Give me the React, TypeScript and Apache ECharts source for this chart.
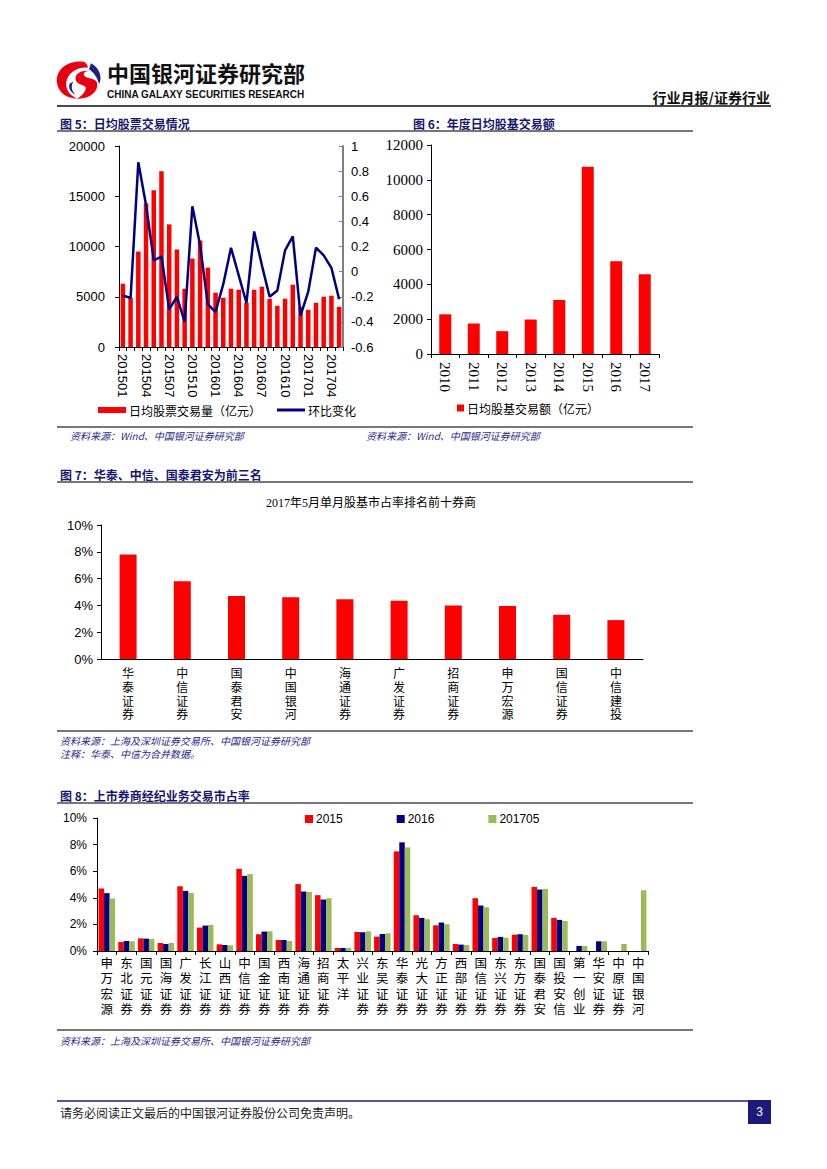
import React, { useEffect, useRef } from "react";
import * as echarts from "echarts";

// ---------- Data ----------
const months = [
  "201501","201502","201503","201504","201505","201506","201507","201508","201509","201510","201511","201512",
  "201601","201602","201603","201604","201605","201606","201607","201608","201609","201610","201611","201612",
  "201701","201702","201703","201704","201705",
];
const dailyStockVolume = [
  6300, 4900, 9500, 14300, 15600, 17500, 12200, 9700, 5800, 8800, 10600, 7900,
  5400, 4900, 5800, 5700, 4400, 5700, 6000, 4800, 4100, 4800, 6200, 4000,
  3700, 4400, 5000, 5100, 4000,
];
const momChange = [
  -0.19, -0.21, 0.87, 0.53, 0.09, 0.12, -0.30, -0.20, -0.40, 0.52, 0.21, -0.26,
  -0.32, -0.10, 0.19, -0.03, -0.25, 0.32, 0.05, -0.20, -0.15, 0.17, 0.28, -0.35,
  -0.16, 0.19, 0.13, 0.03, -0.22,
];

const years = ["2010", "2011", "2012", "2013", "2014", "2015", "2016", "2017"];
const yearlyTurnover = [2280, 1750, 1310, 1980, 3100, 10750, 5330, 4580];

const top10Brokers = ["华泰证券", "中信证券", "国泰君安", "中国银河", "海通证券", "广发证券", "招商证券", "申万宏源", "国信证券", "中信建投"];
const top10Share = [7.8, 5.8, 4.7, 4.6, 4.45, 4.35, 4.0, 3.95, 3.3, 2.9];

const listedBrokers = [
  "申万宏源", "东北证券", "国元证券", "国海证券", "广发证券", "长江证券", "山西证券", "中信证券",
  "国金证券", "西南证券", "海通证券", "招商证券", "太平洋", "兴业证券", "东吴证券", "华泰证券",
  "光大证券", "方正证券", "西部证券", "国信证券", "东兴证券", "东方证券", "国泰君安", "国投安信",
  "第一创业", "华安证券", "中原证券", "中国银河",
];
const share2015 = [4.7, 0.68, 0.95, 0.6, 4.87, 1.76, 0.5, 6.18, 1.26, 0.83, 5.03, 4.2, 0.23, 1.43, 1.08, 7.49, 2.69, 1.93, 0.53, 3.97, 0.98, 1.23, 4.82, 2.49, null, null, null, null];
const share2016 = [4.35, 0.75, 0.93, 0.53, 4.52, 1.91, 0.45, 5.65, 1.46, 0.83, 4.47, 3.87, 0.23, 1.41, 1.28, 8.17, 2.49, 2.14, 0.48, 3.42, 1.06, 1.26, 4.62, 2.34, 0.38, 0.73, null, null];
const share201705 = [3.95, 0.73, 0.9, 0.6, 4.37, 1.96, 0.43, 5.78, 1.48, 0.75, 4.45, 3.97, 0.23, 1.48, 1.33, 7.79, 2.39, 2.01, 0.45, 3.29, 1.0, 1.21, 4.67, 2.26, 0.38, 0.73, 0.53, 4.57];

const leftTicks1 = { min: 0, max: 20000, interval: 5000 };
const rightTicks1 = { min: -0.6, max: 1, interval: 0.2 };

// ---------- Styles ----------
const SANS = "'Liberation Sans', Arial, 'Noto Sans CJK SC', sans-serif";
const CJK = "'Noto Sans CJK SC', sans-serif";
const SERIF = "'Liberation Serif', 'Times New Roman', 'Noto Sans CJK SC', serif";
const RED = "#FF0000";
const NAVY = "#000080";
const GREEN = "#9BBB59";
const TITLE_NAVY = "#16166e";
const RULE = "#4a4a4a";

const plain = (v: number) => String(v);

let logoRegistered = false;
function registerLogo() {
  if (logoRegistered) return;
  logoRegistered = true;
  echarts.graphic.registerShape(
    "logoRed",
    echarts.graphic.extendPath(
      "M62 4 C28 0 2 22 4 52 C6 76 24 92 48 92 C30 84 20 66 26 46 C32 28 50 16 72 18 C70 10 67 6 62 4 Z M74 26 C54 24 40 36 46 50 C52 62 72 58 66 72 C62 82 54 88 48 92 C74 94 94 76 92 56 C90 42 70 46 64 38 C60 32 64 27 74 26 Z",
      {}
    )
  );
  echarts.graphic.registerShape(
    "logoNavy",
    echarts.graphic.extendPath(
      "M78 8 C96 18 104 40 96 58 C92 40 84 30 74 22 C76 17 77 12 78 8 Z M40 52 C34 62 36 74 44 82 C34 78 28 66 32 56 Z",
      {}
    )
  );
}

function hline(x1: number, x2: number, y: number, color: string, w: number) {
  return { type: "line", shape: { x1, y1: y, x2, y2: y }, style: { stroke: color, lineWidth: w }, silent: true };
}
function txt(x: number, y: number, text: string, font: string, fill: string, align = "left", extra: any = {}) {
  return {
    type: "text",
    x,
    y,
    style: { text, font, fill, align, verticalAlign: "middle", ...extra },
    silent: true,
  };
}

// Vertical category labels: one axis per character row so that each glyph is its own text
function charAxis(grid: number, data: string[], row: number, pitch: number, size: number, margin: number, ticks: boolean) {
  return {
    type: "category",
    gridIndex: grid,
    position: "bottom",
    offset: row * pitch,
    data,
    axisLine: { show: row === 0, lineStyle: { color: "#000", width: 1 } },
    axisTick: { show: row === 0 && ticks, interval: 0, length: 4, lineStyle: { color: "#000" } },
    axisLabel: {
      interval: 0,
      margin,
      fontSize: size,
      color: "#000",
      fontFamily: SANS,
      formatter: (v: string) => v.charAt(row),
    },
  };
}

export default function App() {
  const ref = useRef<HTMLDivElement>(null);

  useEffect(() => {
    if (!ref.current) return;
    registerLogo();
    const chart = echarts.init(ref.current, undefined, { renderer: "svg" });

    const srcFont = `italic 10px ${CJK}`;
    const srcColor = "#2a2a8a";

    const option: any = {
      animation: false,
      backgroundColor: "#ffffff",
      grid: [
        { left: 119, top: 146, width: 224, height: 201 },
        { left: 431, top: 145, width: 228, height: 209 },
        { left: 101, top: 525, width: 542, height: 134 },
        { left: 97, top: 818, width: 551, height: 133 },
      ],
      xAxis: [
        {
          type: "category",
          gridIndex: 0,
          data: months,
          axisLine: { lineStyle: { color: "#000", width: 1 } },
          axisTick: { show: true, interval: 0, length: 4, lineStyle: { color: "#000" } },
          axisLabel: { interval: 2, rotate: -90, margin: 7, fontSize: 13, color: "#000", fontFamily: SANS },
        },
        {
          type: "category",
          gridIndex: 1,
          data: years,
          axisLine: { lineStyle: { color: "#000", width: 1 } },
          axisTick: { show: true, interval: 0, length: 4, lineStyle: { color: "#000" } },
          axisLabel: { interval: 0, rotate: -90, margin: 8, fontSize: 15, color: "#000", fontFamily: SERIF },
        },
        // chart 7 labels (axis 2 carries the series)
        charAxis(2, top10Brokers, 0, 13.8, 12, 9, false),
        charAxis(2, top10Brokers, 1, 13.8, 12, 9, false),
        charAxis(2, top10Brokers, 2, 13.8, 12, 9, false),
        charAxis(2, top10Brokers, 3, 13.8, 12, 9, false),
        // chart 8 labels (axis 6 carries the series)
        charAxis(3, listedBrokers, 0, 15.2, 12.5, 7, true),
        charAxis(3, listedBrokers, 1, 15.2, 12.5, 7, true),
        charAxis(3, listedBrokers, 2, 15.2, 12.5, 7, true),
        charAxis(3, listedBrokers, 3, 15.2, 12.5, 7, true),
      ],
      yAxis: [
        {
          type: "value",
          gridIndex: 0,
          ...leftTicks1,
          splitLine: { show: false },
          axisLine: { show: true, lineStyle: { color: "#000", width: 1 } },
          axisTick: { show: true, length: 4, lineStyle: { color: "#000" } },
          axisLabel: { fontSize: 13, color: "#000", fontFamily: SANS, margin: 14, formatter: plain },
        },
        {
          type: "value",
          gridIndex: 0,
          position: "right",
          ...rightTicks1,
          splitLine: { show: false },
          axisLine: { show: true, lineStyle: { color: "#7f7f7f", width: 2 } },
          axisTick: { show: true, inside: true, length: 4, lineStyle: { color: "#7f7f7f" } },
          axisLabel: {
            fontSize: 13,
            color: "#000",
            fontFamily: SANS,
            margin: 8,
            formatter: (v: number) => String(Math.round(v * 10) / 10),
          },
        },
        {
          type: "value",
          gridIndex: 1,
          min: 0,
          max: 12000,
          interval: 2000,
          splitLine: { show: false },
          axisLine: { show: true, lineStyle: { color: "#000", width: 1 } },
          axisTick: { show: true, length: 4, lineStyle: { color: "#000" } },
          axisLabel: { fontSize: 15, color: "#000", fontFamily: SERIF, margin: 8, formatter: plain },
        },
        {
          type: "value",
          gridIndex: 2,
          min: 0,
          max: 10,
          interval: 2,
          splitLine: { show: false },
          axisLine: { show: true, lineStyle: { color: "#000", width: 1 } },
          axisTick: { show: true, length: 4, lineStyle: { color: "#000" } },
          axisLabel: { fontSize: 13, color: "#000", fontFamily: SANS, margin: 8, formatter: "{value}%" },
        },
        {
          type: "value",
          gridIndex: 3,
          min: 0,
          max: 10,
          interval: 2,
          splitLine: { show: false },
          axisLine: { show: true, lineStyle: { color: "#000", width: 1 } },
          axisTick: { show: true, length: 4, lineStyle: { color: "#000" } },
          axisLabel: { fontSize: 12, color: "#000", fontFamily: SANS, margin: 10, formatter: "{value}%" },
        },
      ],
      legend: [
        {
          data: [
            { name: "日均股票交易量（亿元）", icon: "rect", itemStyle: { color: RED } },
            { name: "环比变化", icon: "path://M0 0 H28 V3 H0 Z" },
          ],
          left: 98,
          top: 404,
          itemGap: 16,
          itemWidth: 28,
          itemHeight: 6,
          padding: 0,
          selectedMode: false,
          textStyle: { fontSize: 12, color: "#000", fontFamily: CJK, padding: [0, 0, 0, -2] },
        },
        {
          data: [{ name: "日均股基交易额（亿元）", icon: "rect" }],
          left: 457,
          top: 402,
          itemWidth: 7,
          itemHeight: 7,
          padding: 0,
          selectedMode: false,
          textStyle: { fontSize: 12, color: "#000", fontFamily: CJK, padding: [0, 0, 0, -2] },
        },
        {
          data: [
            { name: "2015", icon: "rect" },
            { name: "2016", icon: "rect" },
            { name: "201705", icon: "rect" },
          ],
          left: 305,
          top: 813,
          itemGap: 54,
          itemWidth: 8,
          itemHeight: 8,
          padding: 0,
          selectedMode: false,
          textStyle: { fontSize: 12, color: "#000", fontFamily: SANS, padding: [0, 0, 0, -2] },
        },
      ],
      series: [
        {
          name: "日均股票交易量（亿元）",
          type: "bar",
          xAxisIndex: 0,
          yAxisIndex: 0,
          data: dailyStockVolume,
          barWidth: 4.5,
          itemStyle: { color: RED },
        },
        {
          name: "环比变化",
          type: "line",
          xAxisIndex: 0,
          yAxisIndex: 1,
          data: momChange,
          symbol: "none",
          showSymbol: false,
          lineStyle: { color: NAVY, width: 2.5 },
          itemStyle: { color: NAVY },
        },
        {
          name: "日均股基交易额（亿元）",
          type: "bar",
          xAxisIndex: 1,
          yAxisIndex: 2,
          data: yearlyTurnover,
          barWidth: 12,
          itemStyle: { color: RED },
        },
        {
          name: "2017年5月市占率",
          type: "bar",
          xAxisIndex: 2,
          yAxisIndex: 3,
          data: top10Share,
          barWidth: 17,
          itemStyle: { color: RED },
        },
        {
          name: "2015",
          type: "bar",
          xAxisIndex: 6,
          yAxisIndex: 4,
          data: share2015,
          barWidth: 5.5,
          barGap: "0%",
          itemStyle: { color: RED },
        },
        {
          name: "2016",
          type: "bar",
          xAxisIndex: 6,
          yAxisIndex: 4,
          data: share2016,
          barWidth: 5.5,
          barGap: "0%",
          itemStyle: { color: NAVY },
        },
        {
          name: "201705",
          type: "bar",
          xAxisIndex: 6,
          yAxisIndex: 4,
          data: share201705,
          barWidth: 5.5,
          barGap: "0%",
          itemStyle: { color: GREEN },
        },
      ],
      graphic: [
        // logo
        { type: "logoRed", x: 55, y: 60, scaleX: 0.46, scaleY: 0.42, style: { fill: "#E60012" }, silent: true },
        { type: "logoNavy", x: 55, y: 60, scaleX: 0.46, scaleY: 0.42, style: { fill: "#1d2088" }, silent: true },
        txt(107, 72, "中国银河证券研究部", `bold 22px ${CJK}`, "#111"),
        txt(107, 94, "CHINA GALAXY SECURITIES RESEARCH", `bold 10px ${SANS}`, "#111"),
        txt(770, 97, "行业月报/证券行业", `bold 14px ${CJK}`, "#111", "right"),
        hline(57, 771, 106, RULE, 2),

        // section 5 & 6
        txt(60, 123, "图 5：日均股票交易情况", `bold 12px ${CJK}`, TITLE_NAVY),
        txt(413, 123, "图 6：年度日均股基交易额", `bold 12px ${CJK}`, TITLE_NAVY),
        hline(57, 693, 131, RULE, 1.5),
        hline(57, 693, 427, RULE, 1.5),
        txt(70, 435, "资料来源：Wind、中国银河证券研究部", srcFont, srcColor),
        txt(366, 435, "资料来源：Wind、中国银河证券研究部", srcFont, srcColor),

        // section 7
        txt(60, 474, "图 7：华泰、中信、国泰君安为前三名", `bold 12px ${CJK}`, TITLE_NAVY),
        hline(57, 693, 482, RULE, 1.5),
        txt(371, 503, "2017年5月单月股基市占率排名前十券商", `12px ${SERIF}`, "#000", "center"),
        hline(57, 693, 731, RULE, 1.5),
        txt(60, 740, "资料来源：上海及深圳证券交易所、中国银河证券研究部", srcFont, srcColor),
        txt(60, 753, "注释：华泰、中信为合并数据。", srcFont, srcColor),

        // section 8
        txt(60, 795, "图 8：上市券商经纪业务交易市占率", `bold 12px ${CJK}`, TITLE_NAVY),
        hline(57, 693, 803, RULE, 1.5),
        hline(57, 693, 1030, RULE, 1.5),
        txt(60, 1040, "资料来源：上海及深圳证券交易所、中国银河证券研究部", srcFont, srcColor),

        // footer
        hline(57, 748, 1101, "#1d1d7a", 1.5),
        txt(60, 1112, "请务必阅读正文最后的中国银河证券股份公司免责声明。", `12px ${CJK}`, "#222"),
        { type: "rect", shape: { x: 748, y: 1100, width: 23, height: 24 }, style: { fill: "#1a1a7a" }, silent: true },
        txt(759.5, 1112, "3", `12px ${SANS}`, "#fff", "center"),
      ],
    };

    chart.setOption(option);
    return () => chart.dispose();
  }, []);

  return (
    <div
      ref={ref}
      style={{ position: "absolute", left: 0, top: 0, width: 827, height: 1169, background: "#fff" }}
    />
  );
}
